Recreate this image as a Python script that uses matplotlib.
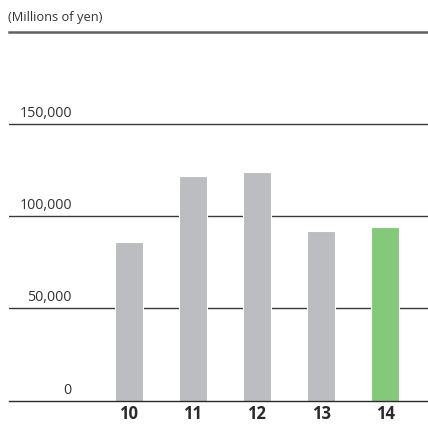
import matplotlib.pyplot as plt
import matplotlib.transforms as mtransforms

# fiscal years and values (millions of yen)
years = ['10', '11', '12', '13', '14']
values = [86300, 121900, 124000, 92000, 94100]
bar_colors = ['#bcbdc0', '#bcbdc0', '#bcbdc0', '#bcbdc0', '#84c97a']
grid_values = [0, 50000, 100000, 150000]
grid_labels = ['0', '50,000', '100,000', '150,000']

plt.rcParams['font.family'] = ['Open Sans', 'DejaVu Sans']

fig = plt.figure(figsize=(4.28, 4.24), dpi=100)
ax = fig.add_axes([0.021, 0.0554, 0.979, 0.869])

x = list(range(len(years)))
ax.set_xlim(-1.867, 4.668)
ax.set_ylim(0, 200000)

# gridlines, drawn under the bars
for v in grid_values[1:]:
    ax.axhline(v, color='#3a3a3a', lw=1.0, zorder=1)
ax.axhline(200000, color='#606060', lw=1.8, zorder=1, clip_on=False)
ax.axhline(0, color='#2a2a2a', lw=1.0, zorder=4, clip_on=False)

ax.bar(x, values, width=0.44, color=bar_colors, edgecolor='white', linewidth=0.8, zorder=3)

# y labels sit above their lines
offset = mtransforms.offset_copy(ax.get_yaxis_transform(), fig=fig, x=0, y=3, units='dots')
for v, lab in zip(grid_values, grid_labels):
    ax.text(0.150, v, lab, transform=offset, ha='right', va='bottom',
            fontsize=10.3, color='#333333')

ax.set_xticks(x)
ax.set_xticklabels(years, fontsize=12, fontweight='bold', color='#2a2a2a')
ax.tick_params(axis='x', length=0, pad=3)
ax.set_yticks([])
for s in ax.spines.values():
    s.set_visible(False)

fig.text(8 / 428, 1 - 17 / 424, '(Millions of yen)', ha='left', va='center',
         fontsize=9.3, color='#333333')

fig.savefig('out.png', dpi=100)
